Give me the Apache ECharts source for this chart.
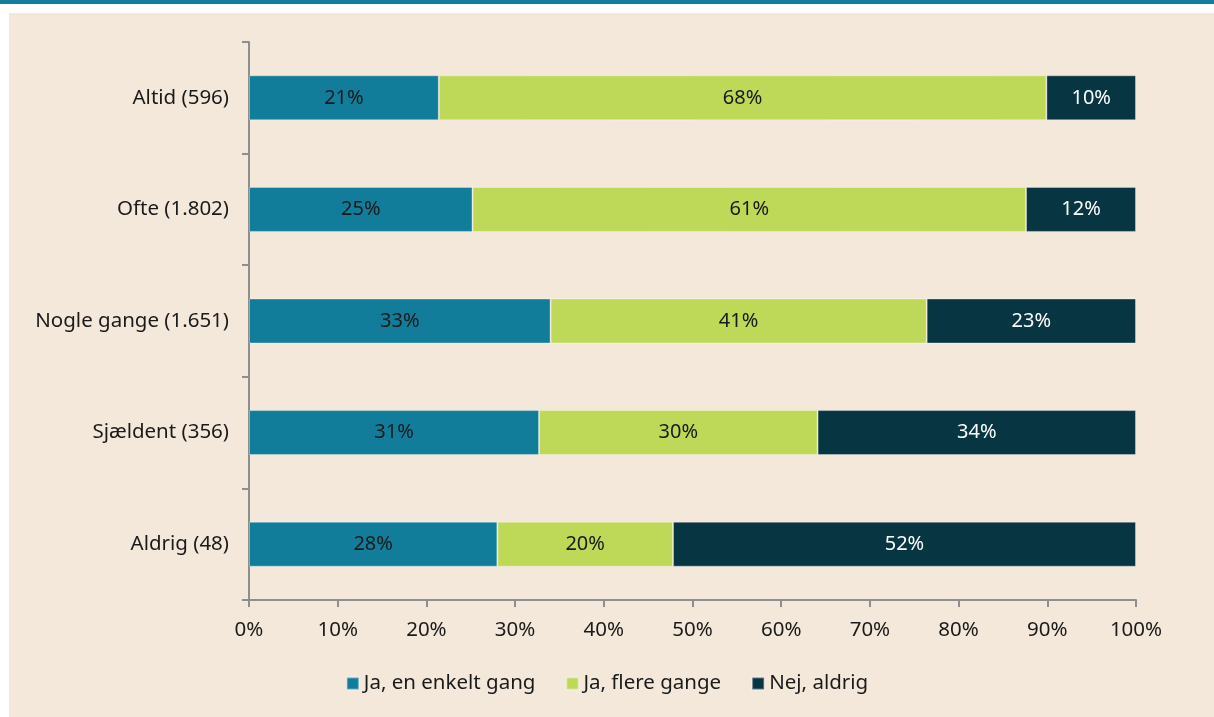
<!DOCTYPE html>
<html lang="da">
<head>
    <meta charset="UTF-8">
    <script src="https://cdn.jsdelivr.net/npm/echarts@6/dist/echarts.min.js"></script>
    <style>
        body { margin: 0; background: #ffffff; }
        #main { width: 1214px; height: 717px; }
    </style>
</head>
<body>
    <div id="main"></div>
    <script>
        // categories, top to bottom
        var categories = ['Altid (596)', 'Ofte (1.802)', 'Nogle gange (1.651)', 'Sjældent (356)', 'Aldrig (48)'];

        // bar lengths (share of 100%)
        var enkelt = [21.4, 25.2, 34.0, 32.7, 28.0];
        var flere = [68.5, 62.4, 42.4, 31.4, 19.8];
        var aldrig = [10.1, 12.4, 23.6, 35.9, 52.2];

        // percentages printed on the bars
        var enkeltLabels = [21, 25, 33, 31, 28];
        var flereLabels = [68, 61, 41, 30, 20];
        var aldrigLabels = [10, 12, 23, 34, 52];

        var seriesNames = ['Ja, en enkelt gang', 'Ja, flere gange', 'Nej, aldrig'];
        var colors = ['#117d9a', '#bed858', '#073541'];
        var textColors = ['#1a1a1a', '#1a1a1a', '#ffffff'];

        var font = '"Noto Sans", "Open Sans", sans-serif';
        var axisGrey = '#8e8e8e';
        var fs = 20.5;

        function makeSeries(name, values, labels, i) {
            return {
                name: name,
                type: 'bar',
                stack: 'total',
                barWidth: 45,
                data: values,
                itemStyle: {
                    color: colors[i],
                    borderColor: 'rgba(255,255,255,0.35)',
                    borderWidth: 1
                },
                label: {
                    show: true,
                    position: 'inside',
                    color: textColors[i],
                    fontFamily: font,
                    fontSize: 20,
                    formatter: function (p) {
                        return labels[p.dataIndex] + '%';
                    }
                }
            };
        }

        var chart = echarts.init(document.getElementById('main'));

        chart.setOption({
            animation: false,
            color: colors,
            graphic: [
                { type: 'rect', z: -10, shape: { x: 0, y: 0, width: 1214, height: 4 }, style: { fill: '#117d9a' } },
                { type: 'rect', z: -10, shape: { x: 9, y: 13, width: 1205, height: 704 }, style: { fill: '#f4e8db' } }
            ],
            grid: {
                left: 249,
                right: 78,
                top: 42,
                bottom: 117,
                containLabel: false
            },
            legend: {
                bottom: 18,
                left: 'center',
                itemWidth: 12,
                itemHeight: 12,
                itemGap: 30,
                icon: 'rect',
                textStyle: { fontFamily: font, fontSize: fs, color: '#1a1a1a' },
                data: seriesNames
            },
            xAxis: {
                type: 'value',
                min: 0,
                max: 100,
                interval: 10,
                axisLine: { show: true, lineStyle: { color: axisGrey, width: 2 } },
                axisTick: { show: true, length: 7, lineStyle: { color: axisGrey, width: 2 } },
                splitLine: { show: false },
                axisLabel: {
                    formatter: '{value}%',
                    color: '#1a1a1a',
                    fontFamily: font,
                    fontSize: fs,
                    margin: 20
                }
            },
            yAxis: {
                type: 'category',
                inverse: true,
                data: categories,
                axisLine: { show: true, lineStyle: { color: axisGrey, width: 2 } },
                axisTick: { show: true, length: 7, lineStyle: { color: axisGrey, width: 2 } },
                axisLabel: {
                    color: '#1a1a1a',
                    fontFamily: font,
                    fontSize: fs,
                    margin: 20
                }
            },
            series: [
                makeSeries(seriesNames[0], enkelt, enkeltLabels, 0),
                makeSeries(seriesNames[1], flere, flereLabels, 1),
                makeSeries(seriesNames[2], aldrig, aldrigLabels, 2)
            ]
        });
    </script>
</body>
</html>
